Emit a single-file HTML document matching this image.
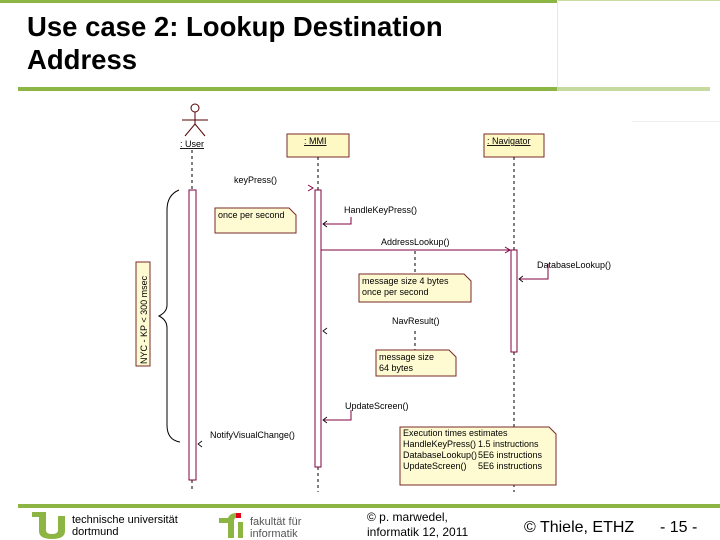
<!DOCTYPE html>
<html><head><meta charset="utf-8"><style>
html,body{margin:0;padding:0;background:#fff;}
svg{display:block;font-family:"Liberation Sans",sans-serif;}
</style></head><body>
<svg width="720" height="540" viewBox="0 0 720 540" xmlns="http://www.w3.org/2000/svg">
<rect x="0" y="0" width="720" height="540" fill="#fff"/>
<rect x="0" y="0" width="557" height="3" fill="#8db543"/>
<rect x="557" y="0" width="163" height="1" fill="#c9dca5"/>
<rect x="557" y="0" width="1" height="88" fill="#e4ecd6"/>
<rect x="18" y="87" width="539" height="4" fill="#8db543"/>
<rect x="557" y="87" width="153" height="4" fill="#c6d99f"/>
<rect x="632" y="121" width="88" height="1" fill="#eee"/>
<text x="27" y="36" font-size="27.5" font-weight="bold" fill="#000">Use case 2: Lookup Destination</text>
<text x="27" y="69" font-size="27.5" font-weight="bold" fill="#000">Address</text>

<g stroke="#800040" fill="none" stroke-width="1">
<circle cx="195" cy="108" r="4" stroke="#500"/>
<line x1="195" y1="112" x2="195" y2="124" stroke="#500"/>
<line x1="182" y1="120" x2="208" y2="120" stroke="#500"/>
<line x1="195" y1="124" x2="185" y2="136" stroke="#500"/>
<line x1="195" y1="124" x2="205" y2="136" stroke="#500"/>
</g>
<text x="180" y="147" font-size="9" fill="#000" text-decoration="underline">: User</text>
<rect x="287" y="134" width="62" height="23" fill="#fdf8c4" stroke="#7a2a2a"/>
<text x="304" y="144" font-size="9" fill="#000" text-decoration="underline">: MMI</text>
<rect x="484" y="134" width="60" height="23" fill="#fdf8c4" stroke="#7a2a2a"/>
<text x="487" y="144" font-size="9" fill="#000" text-decoration="underline">: Navigator</text>

<g stroke="#000" stroke-dasharray="3,3">
<line x1="192" y1="150" x2="192" y2="190"/>
<line x1="192" y1="480" x2="192" y2="492"/>
<line x1="318" y1="157" x2="318" y2="190"/>
<line x1="318" y1="467" x2="318" y2="492"/>
<line x1="514" y1="157" x2="514" y2="250"/>
<line x1="514" y1="352" x2="514" y2="492"/>
<line x1="415" y1="251" x2="415" y2="275"/>
<line x1="415" y1="331" x2="415" y2="350"/>
</g>
<g stroke="#800040" fill="#fff">
<rect x="189" y="190" width="7" height="290"/>
<rect x="315" y="190" width="6" height="277"/>
<rect x="511" y="250" width="6" height="102"/>
</g>
<g stroke="#800040" fill="none">
<path d="M308,185 L313,188 L308,191"/>
<path d="M351,217 V224 H323"/>
<line x1="321" y1="250" x2="510" y2="250"/>
<path d="M505,247 L510,250 L505,253"/>
<path d="M548,264 V279 H519"/>
<path d="M351,410 V420 H323"/>
</g>
<g stroke="#000" fill="none" stroke-width="0.8">
<path d="M327,221 L323,224 L327,227"/>
<path d="M523,276 L519,279 L523,282"/>
<path d="M327,328 L323,331 L327,334"/>
<path d="M327,417 L323,420 L327,423"/>
<path d="M202,441 L198,444 L202,447"/>
</g>
<path d="M179,190 Q167,195 167,210 L167,305 Q167,312 159,316 Q167,320 167,328 L167,425 Q167,440 180,442" stroke="#000" fill="none"/>
<text x="234" y="183" font-size="9" fill="#000">keyPress()</text>
<text x="344" y="213" font-size="9" fill="#000">HandleKeyPress()</text>
<text x="381" y="245" font-size="9" fill="#000">AddressLookup()</text>
<text x="537" y="268" font-size="9" fill="#000">DatabaseLookup()</text>
<text x="392" y="324" font-size="9" fill="#000">NavResult()</text>
<text x="345" y="409" font-size="9" fill="#000">UpdateScreen()</text>
<text x="210" y="438" font-size="9" fill="#000">NotifyVisualChange()</text>

<g fill="#fefbd2" stroke="#7a2a2a">
<path d="M215,208 H289 L296,215 V233 H215 Z"/>
<path d="M359,274 H464 L471,281 V302 H359 Z"/>
<path d="M376,350 H449 L456,357 V376 H376 Z"/>
<path d="M136,262 H150 V366 H136 Z"/>
<path d="M400,427 H549 L556,434 V485 H400 Z"/>
</g>
<text x="218" y="218" font-size="9" fill="#000">once per second</text>
<text x="362" y="284" font-size="9" fill="#000">message size 4 bytes</text>
<text x="362" y="295" font-size="9" fill="#000">once per second</text>
<text x="379" y="360" font-size="9" fill="#000">message size</text>
<text x="379" y="371" font-size="9" fill="#000">64 bytes</text>
<text transform="translate(147,364) rotate(-90)" font-size="9" fill="#000">NYC - KP &lt; 300 msec</text>
<g font-size="9" fill="#000">
<text x="403" y="436">Execution times estimates</text>
<text x="403" y="447">HandleKeyPress()</text><text x="478" y="447">1.5 instructions</text>
<text x="403" y="458">DatabaseLookup()</text><text x="478" y="458">5E6 instructions</text>
<text x="403" y="469">UpdateScreen()</text><text x="478" y="469">5E6 instructions</text>
</g>

<rect x="18" y="504" width="702" height="4" fill="#8db543"/>
<path d="M32,512 H46 V530 Q46,534 52,534 Q58,534 58,530 V516 H65 V531 Q65,539 52,539 Q39,539 39,531 V517 H32 Z" fill="#8db543"/>
<text x="72" y="523" font-size="11" fill="#000">technische universität</text>
<text x="72" y="535" font-size="11" fill="#000">dortmund</text>
<path d="M219,518 H228 Q230,513 236,513 H241 V518 H236 Q234,518 234,521 V538 H228 V523 H219 Z" fill="#8db543"/>
<rect x="236" y="513" width="5" height="5" fill="#e2001a"/>
<rect x="238" y="522" width="5" height="16" fill="#8db543"/>
<text x="250" y="525" font-size="11" fill="#555">fakultät für</text>
<text x="250" y="537" font-size="11" fill="#555">informatik</text>
<text x="367" y="521" font-size="12" fill="#000">© p. marwedel,</text>
<text x="367" y="536" font-size="12" fill="#000">informatik 12,  2011</text>
<text x="524" y="532" font-size="16" fill="#000">© Thiele, ETHZ</text>
<text x="660" y="532" font-size="16" fill="#000">- 15 -</text>
</svg>
</body></html>
